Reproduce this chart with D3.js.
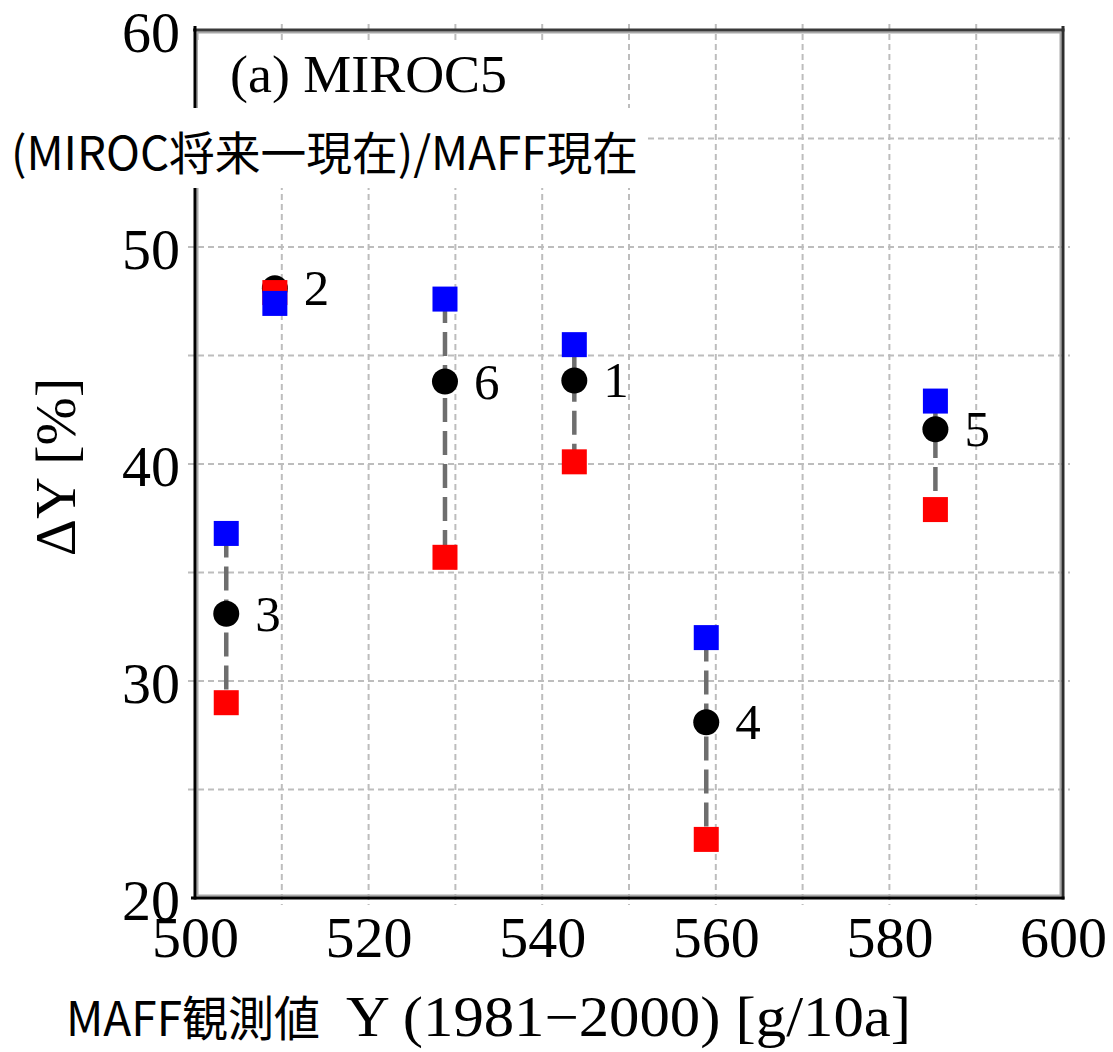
<!DOCTYPE html>
<html>
<head>
<meta charset="utf-8">
<script src="https://cdn.jsdelivr.net/npm/d3@7"></script>
<style>
  html, body { margin: 0; padding: 0; background: #fff; }
  svg { display: block; }
</style>
</head>
<body>
<svg id="chart" width="1113" height="1052"></svg>
<script>
// Region ids, observed yield (1981-2000) and yield change ranges
const regions   = ["1", "2", "3", "4", "5", "6"];
const obsYield  = [543.7, 509.2, 503.6, 558.9, 585.3, 528.8];
const dyMean    = [43.85, 48.1, 33.1, 28.1, 41.6, 43.8];
const dyHigh    = [45.5, 47.4, 36.8, 32.0, 42.9, 47.6];
const dyLow     = [40.1, 47.9, 29.0, 22.7, 37.9, 35.7];

const xTicks     = [500, 520, 540, 560, 580, 600];
const xGridTicks = [510, 520, 530, 540, 550, 560, 570, 580, 590];
const yTicks     = [20, 30, 40, 50, 60];
const yGridTicks = [25, 30, 35, 40, 45, 50, 55];

const panelTitle = "(a) MIROC5";
const noteText   = "(MIROC将来一現在)/MAFF現在";
const xLabelJa   = "MAFF観測値";
const xLabelEn   = "Y (1981\u22122000) [g/10a]";
const yLabel     = "\u0394Y [%]";

const svg = d3.select("#chart");
const L = 195, R = 1063, T = 30, B = 898;
const x = d3.scaleLinear().domain([500, 600]).range([L, R]);
const y = d3.scaleLinear().domain([20, 60]).range([B, T]);
const serif = "'Liberation Serif', 'DejaVu Serif', serif";
const cjk = "'Noto Sans CJK JP', 'Noto Sans', sans-serif";

// dashed grid, running a little past the frame like tick marks
const grid = svg.append("g")
  .attr("stroke", "#bdbdbd").attr("stroke-width", 2).attr("stroke-dasharray", "6,4");
grid.selectAll("line.v").data(xGridTicks).join("line")
  .attr("x1", d => x(d)).attr("x2", d => x(d))
  .attr("y1", T - 6).attr("y2", B + 7);
grid.selectAll("line.h").data(yGridTicks).join("line")
  .attr("y1", d => y(d)).attr("y2", d => y(d))
  .attr("x1", L - 7).attr("x2", R + 7);

// frame: dark outer line with a grey inner line
const frame = svg.append("g").attr("fill", "none");
frame.append("rect").attr("x", L + 2.5).attr("y", T + 2.5)
  .attr("width", R - L - 5).attr("height", B - T - 5)
  .attr("stroke", "#a8a8a8").attr("stroke-width", 2);
frame.append("line").attr("x1", L - 2).attr("x2", R + 1.5).attr("y1", T).attr("y2", T)
  .attr("stroke", "#3a3a3a").attr("stroke-width", 3);
frame.append("line").attr("x1", R).attr("x2", R).attr("y1", T - 4).attr("y2", B + 1.5)
  .attr("stroke", "#2e2e2e").attr("stroke-width", 3);
frame.append("line").attr("x1", L).attr("x2", L).attr("y1", T - 4).attr("y2", B + 1.5)
  .attr("stroke", "#000").attr("stroke-width", 3);
frame.append("line").attr("x1", L - 4).attr("x2", R + 1.5).attr("y1", B).attr("y2", B)
  .attr("stroke", "#000").attr("stroke-width", 3);

// axes: labels only (ticks drawn with the grid)
const xAxis = svg.append("g").attr("transform", `translate(0,${B})`)
  .call(d3.axisBottom(x).tickValues(xTicks).tickSize(0).tickPadding(59).tickFormat(d3.format("d")));
const yAxis = svg.append("g").attr("transform", `translate(${L},0)`)
  .call(d3.axisLeft(y).tickValues(yTicks).tickSize(0).tickPadding(15).tickFormat(d3.format("d")));
[xAxis, yAxis].forEach(a => {
  a.select(".domain").remove();
  a.selectAll("text").attr("font-family", serif).attr("font-size", 58).attr("fill", "#000");
});
xAxis.selectAll("text").attr("dy", 0);
yAxis.selectAll("text").attr("dy", 21);

// white boxes behind the panel title and the note
svg.append("rect").attr("x", L + 3).attr("y", 40).attr("width", 355).attr("height", 68).attr("fill", "#fff");
svg.append("rect").attr("x", 0).attr("y", 108).attr("width", 648).attr("height", 80).attr("fill", "#fff");

svg.append("text").attr("x", 230).attr("y", 92)
  .attr("font-family", serif).attr("font-size", 53)
  .attr("textLength", 277).attr("lengthAdjust", "spacingAndGlyphs")
  .text(panelTitle);
svg.append("text").attr("x", 11).attr("y", 170)
  .attr("font-family", cjk).attr("font-size", 46)
  .attr("textLength", 627).attr("lengthAdjust", "spacingAndGlyphs")
  .text(noteText);

// data: dashed range line, mean circle, low (red) and high (blue) squares
const pts = regions.map((r, i) => ({ r, x: obsYield[i], m: dyMean[i], hi: dyHigh[i], lo: dyLow[i] }));
const S = 25;
const marks = svg.append("g");
marks.selectAll("line.rng").data(pts).join("line")
  .attr("x1", d => x(d.x)).attr("x2", d => x(d.x))
  .attr("y1", d => y(d.hi)).attr("y2", d => y(d.lo))
  .attr("stroke", "#6e6e6e").attr("stroke-width", 4.5).attr("stroke-dasharray", "24,9");
marks.selectAll("circle").data(pts).join("circle")
  .attr("cx", d => x(d.x)).attr("cy", d => y(d.m)).attr("r", 13).attr("fill", "#000");
marks.selectAll("rect.lo").data(pts).join("rect")
  .attr("x", d => x(d.x) - S / 2).attr("y", d => y(d.lo) - S / 2)
  .attr("width", S).attr("height", S).attr("fill", "#ff0000");
marks.selectAll("rect.hi").data(pts).join("rect")
  .attr("x", d => x(d.x) - S / 2).attr("y", d => y(d.hi) - S / 2)
  .attr("width", S).attr("height", S).attr("fill", "#0000ff");
marks.selectAll("text").data(pts).join("text")
  .attr("x", d => x(d.x) + 29).attr("y", d => y(d.m) + 17)
  .attr("font-family", serif).attr("font-size", 51).attr("fill", "#000")
  .text(d => d.r);

// axis titles
svg.append("text")
  .attr("transform", "translate(75,467) rotate(-90)")
  .attr("text-anchor", "middle")
  .attr("font-family", serif).attr("font-size", 58)
  .text(yLabel);
svg.append("text").attr("x", 66).attr("y", 1036)
  .attr("font-family", cjk).attr("font-size", 48)
  .attr("textLength", 254).attr("lengthAdjust", "spacingAndGlyphs")
  .text(xLabelJa);
svg.append("text").attr("x", 346).attr("y", 1036)
  .attr("font-family", serif).attr("font-size", 56)
  .attr("textLength", 565).attr("lengthAdjust", "spacingAndGlyphs")
  .text(xLabelEn);
</script>
</body>
</html>
